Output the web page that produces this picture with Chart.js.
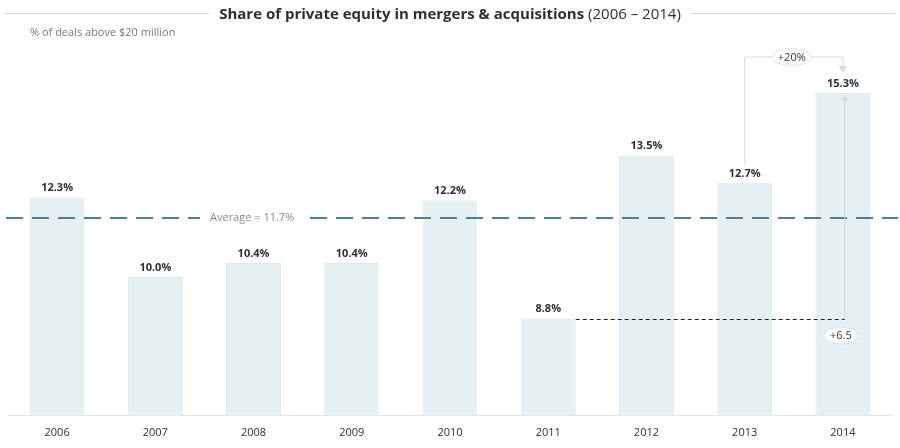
<!DOCTYPE html>
<html>
<head>
<meta charset="utf-8">
<script src="https://cdn.jsdelivr.net/npm/chart.js@4"></script>
<style>
  html, body { margin: 0; padding: 0; background: #fff; }
  #wrap { width: 900px; height: 448px; position: relative; }
</style>
</head>
<body>
<div id="wrap"><canvas id="chart"></canvas></div>
<script>
// Chart data
const years = ['2006', '2007', '2008', '2009', '2010', '2011', '2012', '2013', '2014'];
const shares = [12.3, 10.0, 10.4, 10.4, 12.2, 8.8, 13.5, 12.7, 15.3];
const average = 11.7;
const growthLabel = '+20%';
const diffLabel = '+6.5';

const FONT = "'Open Sans', 'DejaVu Sans', sans-serif";

function roundedLabel(ctx, text, x, y) {
  ctx.save();
  ctx.font = '11px ' + FONT;
  const w = ctx.measureText(text).width + 12;
  const h = 17;
  ctx.beginPath();
  ctx.ellipse(x, y, w / 2, h / 2, 0, 0, Math.PI * 2);
  ctx.fillStyle = '#fff';
  ctx.fill();
  ctx.strokeStyle = '#e2e2e2';
  ctx.lineWidth = 1;
  ctx.stroke();
  ctx.fillStyle = '#333';
  ctx.textAlign = 'center';
  ctx.textBaseline = 'middle';
  ctx.fillText(text, x, y + 0.5);
  ctx.restore();
}

// Title, value labels, average line and arrows
const decorations = {
  id: 'decorations',
  afterDatasetsDraw(chart) {
    const ctx = chart.ctx;
    const y = chart.scales.y;
    const area = chart.chartArea;
    const meta = chart.getDatasetMeta(0);

    // title
    ctx.save();
    ctx.textBaseline = 'middle';
    const boldPart = 'Share of private equity in mergers & acquisitions';
    const normPart = ' (2006 \u2013 2014)';
    ctx.font = 'bold 15px ' + FONT;
    const w1 = ctx.measureText(boldPart).width;
    ctx.font = '15px ' + FONT;
    const w2 = ctx.measureText(normPart).width;
    const tx = 450 - (w1 + w2) / 2;
    ctx.fillStyle = '#2b2f3a';
    ctx.font = 'bold 15px ' + FONT;
    ctx.fillText(boldPart, tx, 15);
    ctx.font = '15px ' + FONT;
    ctx.fillText(normPart, tx + w1, 15);
    ctx.strokeStyle = '#d6d6d6';
    ctx.lineWidth = 1;
    ctx.beginPath();
    ctx.moveTo(5, 13.5); ctx.lineTo(tx - 10, 13.5);
    ctx.moveTo(tx + w1 + w2 + 10, 13.5); ctx.lineTo(895, 13.5);
    ctx.stroke();

    // subtitle
    ctx.font = '11px ' + FONT;
    ctx.fillStyle = '#777';
    ctx.fillText('% of deals above $20 million', 30, 33);
    ctx.restore();

    // average line with label gap
    const avgY = y.getPixelForValue(average);
    ctx.save();
    ctx.strokeStyle = '#4f7f98';
    ctx.lineWidth = 2;
    ctx.setLineDash([17, 9]);
    ctx.beginPath();
    ctx.moveTo(area.left - 2, avgY); ctx.lineTo(200, avgY);
    ctx.moveTo(310, avgY); ctx.lineTo(area.right + 6, avgY);
    ctx.stroke();
    ctx.setLineDash([]);
    ctx.font = '11px ' + FONT;
    ctx.fillStyle = '#888';
    ctx.textBaseline = 'middle';
    ctx.fillText('Average = ' + average.toFixed(1) + '%', 210, avgY);
    ctx.restore();

    // value labels
    ctx.save();
    ctx.font = 'bold 11px ' + FONT;
    ctx.fillStyle = '#2b2f3a';
    ctx.textAlign = 'center';
    ctx.textBaseline = 'bottom';
    meta.data.forEach((bar, i) => {
      ctx.fillText(shares[i].toFixed(1) + '%', bar.x, bar.y - 4);
    });
    ctx.restore();

    // dashed line from 2011 level to 2014
    const i11 = years.indexOf('2011');
    const i13 = years.indexOf('2013');
    const i14 = years.indexOf('2014');
    const b11 = meta.data[i11];
    const b13 = meta.data[i13];
    const b14 = meta.data[i14];
    const lowY = Math.round(y.getPixelForValue(shares[i11])) + 0.5;
    ctx.save();
    ctx.strokeStyle = '#222';
    ctx.lineWidth = 1;
    ctx.setLineDash([4, 3]);
    ctx.beginPath();
    ctx.moveTo(b11.x + b11.width / 2, lowY);
    ctx.lineTo(b14.x + 2, lowY);
    ctx.stroke();
    ctx.setLineDash([]);

    // vertical difference arrow inside 2014 bar
    const topY = y.getPixelForValue(shares[i14]);
    ctx.strokeStyle = '#d9d9d9';
    ctx.fillStyle = '#d9d9d9';
    ctx.beginPath();
    ctx.moveTo(b14.x + 2, lowY);
    ctx.lineTo(b14.x + 2, topY + 4);
    ctx.stroke();
    ctx.beginPath();
    ctx.moveTo(b14.x + 2, topY + 2);
    ctx.lineTo(b14.x - 1.5, topY + 8);
    ctx.lineTo(b14.x + 5.5, topY + 8);
    ctx.closePath();
    ctx.fill();

    // bracket from 2013 to 2014
    const brY = 57;
    ctx.beginPath();
    ctx.moveTo(b13.x, y.getPixelForValue(shares[i13]) - 18);
    ctx.lineTo(b13.x, brY);
    ctx.lineTo(b14.x, brY);
    ctx.lineTo(b14.x, brY + 10);
    ctx.stroke();
    ctx.beginPath();
    ctx.moveTo(b14.x, brY + 16);
    ctx.lineTo(b14.x - 4, brY + 9);
    ctx.lineTo(b14.x + 4, brY + 9);
    ctx.closePath();
    ctx.fill();
    ctx.restore();

    roundedLabel(ctx, growthLabel, (b13.x + b14.x) / 2 - 2, brY);
    roundedLabel(ctx, diffLabel, b14.x - 2, lowY + 16);
  }
};

new Chart(document.getElementById('chart'), {
  type: 'bar',
  data: {
    labels: years,
    datasets: [{
      data: shares,
      backgroundColor: '#e6eff2',
      borderColor: '#dde8ec',
      borderWidth: 1,
      barPercentage: 0.56,
      categoryPercentage: 1
    }]
  },
  options: {
    responsive: true,
    maintainAspectRatio: false,
    animation: false,
    layout: { padding: { left: 8, right: 8, top: 34, bottom: 7 } },
    plugins: {
      legend: { display: false },
      tooltip: { enabled: false }
    },
    scales: {
      x: {
        grid: { display: false },
        border: { color: '#e4e4e4' },
        ticks: { color: '#2b2f3a', font: { family: FONT, size: 11 }, padding: 2 }
      },
      y: {
        display: false,
        min: 6,
        max: 17
      }
    }
  },
  plugins: [decorations]
});
</script>
</body>
</html>
